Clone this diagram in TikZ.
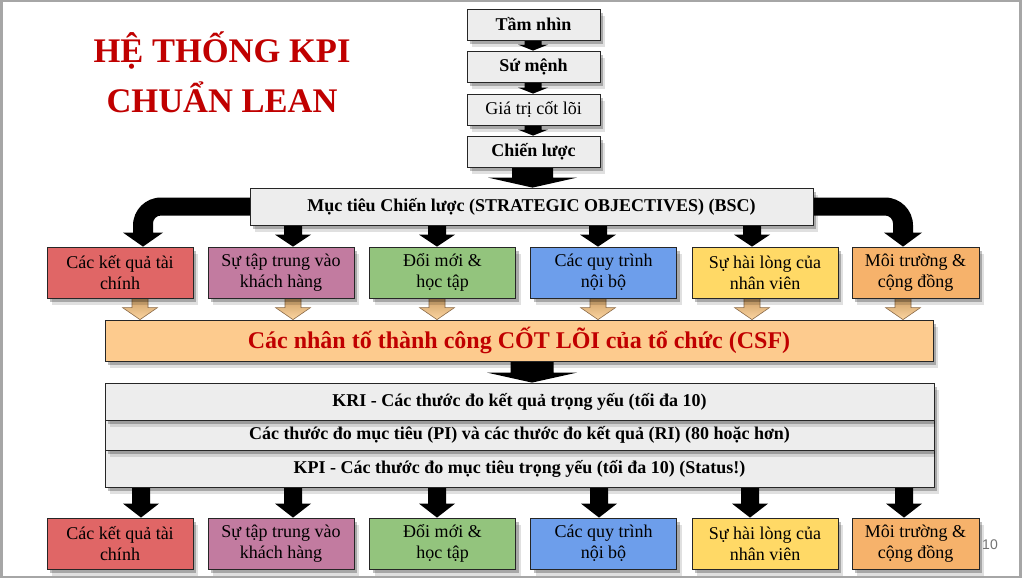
\documentclass[tikz,border=0pt]{standalone}
\usepackage{fontspec}
\setmainfont{Liberation Serif}
\newfontfamily\sansf{Liberation Sans}
\usetikzlibrary{shadows,calc}
\pgfdeclarelayer{bg}
\pgfdeclarelayer{paper}
\pgfsetlayers{paper,bg,main}
\definecolor{boxgray}{HTML}{EDEDED}
\definecolor{cRed}{HTML}{E06666}
\definecolor{cPur}{HTML}{C27BA0}
\definecolor{cGrn}{HTML}{93C47D}
\definecolor{cBlu}{HTML}{6D9EEB}
\definecolor{cYel}{HTML}{FFD966}
\definecolor{cOrg}{HTML}{F6B26B}
\definecolor{csfC}{HTML}{FDCB8E}
\definecolor{titleRed}{HTML}{C00000}
\definecolor{tanA}{HTML}{C89A62}
\definecolor{tanB}{HTML}{FCD5A0}
\definecolor{tanD}{HTML}{8A6A48}
\definecolor{frameC}{HTML}{A6A6A6}
% #1 x, #2 from node, #3 to node, #4 shaft width, #5 head width, #6 head length, #7 style
\newcommand\blkarrow[7]{%
  \path[#7] let \p1=(#2.south), \p2=(#3.north) in
    (#1pt-#4pt/2,\y1+3pt) -- (#1pt+#4pt/2,\y1+3pt) -- (#1pt+#4pt/2,\y2+#6pt)
    -- (#1pt+#5pt/2,\y2+#6pt) -- (#1pt,\y2) -- (#1pt-#5pt/2,\y2+#6pt)
    -- (#1pt-#4pt/2,\y2+#6pt) -- cycle;}
\tikzset{
  shd/.style={drop shadow={shadow xshift=5pt,shadow yshift=-7pt,opacity=0.12,fill=black},
              drop shadow={shadow xshift=3pt,shadow yshift=-4pt,opacity=0.25,fill=black}},
  box/.style={draw=black!85, line width=0.8pt, shd, inner sep=2pt, align=center,
    font=\fontsize{18}{21}\selectfont},
  boldf/.style={font=\bfseries\fontsize{18}{21}\selectfont},
  topbox/.style={box, fill=boxgray, minimum width=133pt, minimum height=31pt},
  cat/.style={box, minimum width=146pt, minimum height=51pt},
  measure/.style={box, boldf, fill=boxgray, minimum width=829pt},
  blk/.style={fill=black},
  tanarr/.style={draw=tanD, line width=0.6pt, top color=tanA, bottom color=tanB},
  titlef/.style={text=titleRed, font=\bfseries\fontsize{34.5}{40}\selectfont, anchor=base},
}
\begin{document}
\begin{tikzpicture}[x=1pt,y=-1pt]
\useasboundingbox (0,0) rectangle (1024,578);
\begin{pgfonlayer}{paper}
\fill[white] (0,0) rectangle (1024,578);
\draw[frameC, line width=2.5pt] (1.25,1.25) rectangle (1020.5,576.8);
\end{pgfonlayer}

% title
\node[titlef] (title1) at (222,63) {HỆ THỐNG KPI};
\node[titlef] (title2) at (222,112) {CHUẨN LEAN};

% top chain
\node[topbox, boldf] (t1) at (533.5,24.5) {Tầm nhìn};
\node[topbox, boldf] (t2) at (533.5,66.5) {Sứ mệnh};
\node[topbox] (t3) at (533.5,109.5) {Giá trị cốt lõi};
\node[topbox, boldf] (t4) at (533.5,151.5) {Chiến lược};

% BSC
\node[topbox, boldf, minimum width=563pt, minimum height=37pt] (bsc) at (531.5,206.5)
  {Mục tiêu Chiến lược (STRATEGIC OBJECTIVES) (BSC)};

% first row of perspectives
\node[cat, fill=cRed] (a1) at (120,272.5) {Các kết quả tài\\chính};
\node[cat, fill=cPur] (a2) at (281,272.5) {Sự tập trung vào\\khách hàng};
\node[cat, fill=cGrn] (a3) at (442.5,272.5) {Đổi mới \&\\học tập};
\node[cat, fill=cBlu] (a4) at (603.5,272.5) {Các quy trình\\nội bộ};
\node[cat, fill=cYel] (a5) at (765,272.5) {Sự hài lòng của\\nhân viên};
\node[cat, fill=cOrg, minimum width=127pt] (a6) at (915.5,272.5) {Môi trường \&\\cộng đồng};

% CSF
\node[box, fill=csfC, minimum width=828pt, minimum height=41pt, text=titleRed,
  font=\bfseries\fontsize{24}{28}\selectfont] (csf) at (519,340.5)
  {Các nhân tố thành công CỐT LÕI của tổ chức (CSF)};

% measures
\node[measure, minimum height=37pt] (kpi) at (519.5,468.5)
  {KPI - Các thước đo mục tiêu trọng yếu (tối đa 10) (Status!)};
\node[measure, minimum height=30pt] (pi) at (519.5,435)
  {Các thước đo mục tiêu (PI) và các thước đo kết quả (RI) (80 hoặc hơn)};
\node[measure, minimum height=37pt] (kri) at (519.5,401.5)
  {KRI - Các thước đo kết quả trọng yếu (tối đa 10)};

% second row of perspectives
\node[cat, fill=cRed] (c1) at (120,543.5) {Các kết quả tài\\chính};
\node[cat, fill=cPur] (c2) at (281,543.5) {Sự tập trung vào\\khách hàng};
\node[cat, fill=cGrn] (c3) at (442.5,543.5) {Đổi mới \&\\học tập};
\node[cat, fill=cBlu] (c4) at (603.5,543.5) {Các quy trình\\nội bộ};
\node[cat, fill=cYel] (c5) at (765,543.5) {Sự hài lòng của\\nhân viên};
\node[cat, fill=cOrg, minimum width=127pt] (c6) at (915.5,543.5) {Môi trường \&\\cộng đồng};

% page number
\node[font=\sansf\fontsize{14}{16}\selectfont, text=black!55] (pg) at (990,545) {10};

\begin{pgfonlayer}{bg}
\blkarrow{533}{t1}{t2}{17}{30}{6}{blk}
\blkarrow{533}{t2}{t3}{17}{30}{6}{blk}
\blkarrow{533}{t3}{t4}{17}{30}{6}{blk}
\blkarrow{532.5}{t4}{bsc}{41}{89}{10}{blk}
% curved left arrow
\path[blk] let \p1=(bsc.west), \p2=(a1.north) in
  (\x1+5pt,\y1+9pt) -- (161pt,\y1+9pt)
  .. controls (145.5pt,\y1+9pt) and (133pt,\y1-3.5pt) .. (133pt,\y1-19pt)
  -- (133pt,\y2+14pt) -- (123pt,\y2+14pt) -- (143pt,\y2) -- (163pt,\y2+14pt)
  -- (153pt,\y2+14pt) -- (153pt,\y1-17pt)
  .. controls (153pt,\y1-12.6pt) and (156.4pt,\y1-9pt) .. (161pt,\y1-9pt)
  -- (\x1+5pt,\y1-9pt) -- cycle;
% curved right arrow
\path[blk] let \p1=(bsc.east), \p2=(a6.north) in
  (\x1-5pt,\y1+9pt) -- (885pt,\y1+9pt)
  .. controls (900.5pt,\y1+9pt) and (913pt,\y1-3.5pt) .. (913pt,\y1-19pt)
  -- (913pt,\y2+14pt) -- (922pt,\y2+14pt) -- (903pt,\y2) -- (884pt,\y2+14pt)
  -- (893pt,\y2+14pt) -- (893pt,\y1-17pt)
  .. controls (893pt,\y1-12.6pt) and (889.6pt,\y1-9pt) .. (885pt,\y1-9pt)
  -- (\x1-5pt,\y1-9pt) -- cycle;
\blkarrow{293}{bsc}{a2}{18}{36}{12}{blk}
\blkarrow{437}{bsc}{a3}{18}{36}{12}{blk}
\blkarrow{598}{bsc}{a4}{18}{36}{12}{blk}
\blkarrow{752}{bsc}{a5}{18}{36}{12}{blk}
% tan arrows into CSF
\blkarrow{140}{a1}{csf}{16}{35}{12}{tanarr}
\blkarrow{293}{a2}{csf}{16}{35}{12}{tanarr}
\blkarrow{437}{a3}{csf}{16}{35}{12}{tanarr}
\blkarrow{598}{a4}{csf}{16}{35}{12}{tanarr}
\blkarrow{752}{a5}{csf}{16}{35}{12}{tanarr}
\blkarrow{903}{a6}{csf}{16}{35}{12}{tanarr}
% CSF to measures
\blkarrow{532}{csf}{kri}{43}{90}{10}{blk}
% measures to second row
\blkarrow{141}{kpi}{c1}{18}{36}{14}{blk}
\blkarrow{293}{kpi}{c2}{18}{36}{14}{blk}
\blkarrow{437}{kpi}{c3}{18}{36}{14}{blk}
\blkarrow{599}{kpi}{c4}{18}{36}{14}{blk}
\blkarrow{750}{kpi}{c5}{18}{36}{14}{blk}
\blkarrow{904}{kpi}{c6}{18}{36}{14}{blk}
\end{pgfonlayer}
\end{tikzpicture}
\end{document}
